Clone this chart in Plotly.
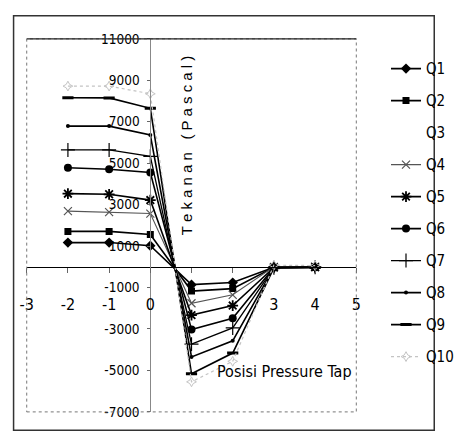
import plotly.graph_objects as go

# ---- data ----
positions = [-2, -1, 0, 1, 2, 3, 4]
Q1 = [1170, 1170, 1020, -860, -760, -20, -10]
Q2 = [1710, 1710, 1560, -1170, -1050, -20, -10]
Q3 = [None, None, None, None, None, None, None]
Q4 = [2690, 2640, 2570, -1760, -1350, 0, 10]
Q5 = [3530, 3500, 3220, -2330, -1870, -30, -20]
Q6 = [4780, 4710, 4550, -3030, -2480, -30, -20]
Q7 = [5640, 5640, 5330, -3730, -2950, -40, -20]
Q8 = [6790, 6790, 6360, -4350, -3570, -40, -30]
Q9 = [8160, 8150, 7650, -5160, -4160, -50, -30]
Q10 = [8720, 8720, 8350, -5550, -4560, 80, 60]

series_names = ["Q1", "Q2", "Q3", "Q4", "Q5", "Q6", "Q7", "Q8", "Q9", "Q10"]
series_values = [Q1, Q2, Q3, Q4, Q5, Q6, Q7, Q8, Q9, Q10]

x_tickvals = [-3, -2, -1, 0, 1, 2, 3, 4, 5]
x_ticktext = ["-3", "-2", "-1", "0", "", "", "3", "4", "5"]
y_tickvals = [-7000, -5000, -3000, -1000, 1000, 3000, 5000, 7000, 9000, 11000]
y_ticktext = [str(v) for v in y_tickvals]

# ---- styles ----
NARROW = "DejaVu Sans Condensed, Liberation Sans Narrow, Arial Narrow, Liberation Sans, sans-serif"
styles = {
    "Q1": dict(line=dict(color="black", width=1.6), marker=dict(symbol="diamond", size=8, color="black")),
    "Q2": dict(line=dict(color="black", width=1.6), marker=dict(symbol="square", size=7, color="black")),
    "Q3": dict(line=dict(color="rgba(0,0,0,0)", width=0), marker=dict(size=1, color="rgba(0,0,0,0)")),
    "Q4": dict(line=dict(color="#555", width=1.1), marker=dict(symbol="x-thin-open", size=8, line=dict(color="#555", width=1.2))),
    "Q5": dict(line=dict(color="black", width=1.6), marker=dict(symbol="asterisk-open", size=9, line=dict(color="black", width=1.8))),
    "Q6": dict(line=dict(color="black", width=1.6), marker=dict(symbol="circle", size=8, color="black")),
    "Q7": dict(line=dict(color="black", width=1.3), marker=dict(symbol="cross-thin-open", size=10, line=dict(color="black", width=1.2))),
    "Q8": dict(line=dict(color="black", width=1.6), marker=dict(symbol="circle", size=4, color="black")),
    "Q9": dict(line=dict(color="black", width=1.6), marker=dict(symbol="line-ew-open", size=8, line=dict(color="black", width=3))),
    "Q10": dict(line=dict(color="#c4c4c4", width=1.2, dash="dot"), marker=dict(symbol="star-diamond-open", size=7, line=dict(color="#bbb", width=1))),
}

fig = go.Figure()
for name, vals in zip(series_names, series_values):
    st = styles[name]
    fig.add_trace(go.Scatter(
        x=positions, y=vals, name=name, mode="lines+markers",
        line=st["line"], marker=st["marker"], legendgroup=name,
    ))

W, H = 459, 444
xdom = [21 / W, 372 / W]
ydom = [(H - 419) / H, (H - 32) / H]
xr = [-3, 5]
yr = [-7000, 11000]
x0_pos = xdom[0] + (0 - xr[0]) / (xr[1] - xr[0]) * (xdom[1] - xdom[0])
y0_pos = ydom[0] + (0 - yr[0]) / (yr[1] - yr[0]) * (ydom[1] - ydom[0])

fig.update_layout(
    width=W, height=H,
    margin=dict(l=0, r=0, t=0, b=0),
    paper_bgcolor="white", plot_bgcolor="white",
    font=dict(family=NARROW, color="black"),
    xaxis=dict(
        domain=xdom, range=xr, anchor="free", position=y0_pos,
        showline=True, linecolor="black", linewidth=1,
        showgrid=False, zeroline=False,
        ticks="outside", ticklen=5, tickcolor="#666",
        tickvals=x_tickvals, ticktext=x_ticktext,
        tickfont=dict(family=NARROW, size=16, color="black"),
        ticklabelstandoff=18,
    ),
    yaxis=dict(
        domain=ydom, range=yr, anchor="free", position=x0_pos,
        showline=True, linecolor="#888", linewidth=1,
        showgrid=False, zeroline=False,
        ticks="outside", ticklen=3, tickcolor="#666",
        tickvals=y_tickvals, ticktext=y_ticktext,
        tickfont=dict(family=NARROW, size=13.5, color="black"),
        ticklabelstandoff=5,
    ),
    legend=dict(
        x=404 / W, y=(H - 46) / H, xanchor="left", yanchor="top",
        font=dict(family=NARROW, size=15, color="black"),
        bgcolor="rgba(0,0,0,0)", tracegroupgap=9.5, itemwidth=30,
        traceorder="grouped",
    ),
    shapes=[
        dict(type="rect", xref="paper", yref="paper", x0=7 / W, x1=455 / W, y0=(H - 438) / H, y1=(H - 8) / H,
             line=dict(color="#333", width=1.5)),
        dict(type="rect", xref="paper", yref="paper", x0=xdom[0], x1=xdom[1], y0=ydom[0], y1=ydom[1],
             line=dict(color="#777", width=1, dash="dot")),
        dict(type="line", xref="paper", yref="paper", x0=xdom[0], x1=xdom[1], y0=ydom[1], y1=ydom[1],
             line=dict(color="#222", width=1.2)),
    ],
    annotations=[
        dict(text="T e k a n a n   ( P a s c a l )", xref="paper", yref="paper",
             x=192 / W, y=(H - 142) / H, xanchor="center", yanchor="middle",
             textangle=-90, showarrow=False,
             font=dict(family="Liberation Sans, Arial, sans-serif", size=15, color="black")),
        dict(text="Posisi Pressure Tap", xref="paper", yref="paper",
             x=296 / W, y=(H - 389) / H, showarrow=False,
             font=dict(family=NARROW, size=16, color="black")),
    ],
)

fig.write_html("out.html")
